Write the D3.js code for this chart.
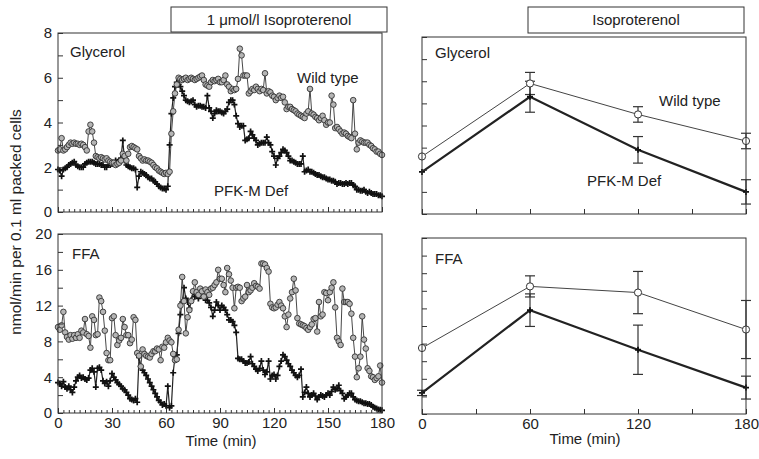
<!DOCTYPE html>
<html>
<head>
<meta charset="utf-8">
<script src="https://d3js.org/d3.v7.min.js"></script>
<style>
  body { margin: 0; background: #fff; }
  svg { font-family: "Liberation Sans", Arial, sans-serif; }
  .tick text { font-size: 15px; fill: #222; }
  .tick line { stroke: #333; }
</style>
</head>
<body>
<svg id="chart" width="759" height="459"></svg>
<script>
// time course, one sample per minute (0..180)
var minutes = d3.range(0, 181);

var glyWT = [2.75,2.8,3.3,2.75,2.8,2.9,3.0,3.1,3.05,3.1,3.05,3.05,3.0,3.05,3.0,2.9,2.75,3.6,3.9,3.6,
  3.1,2.5,2.45,2.4,2.45,2.4,2.35,2.4,2.3,2.25,2.2,2.2,2.1,2.15,2.2,2.3,2.6,2.5,2.3,2.6,
  2.9,2.95,2.9,2.85,2.8,2.5,2.4,2.3,2.35,2.3,2.3,2.25,2.2,2.1,2.0,1.95,1.85,1.8,1.75,1.7,
  1.75,1.7,1.8,3.5,4.5,5.3,5.7,6.0,5.95,5.9,5.95,6.0,5.9,5.95,6.0,5.95,5.9,5.95,6.0,6.05,
  6.1,5.9,5.7,5.65,5.6,5.8,5.9,5.85,5.9,5.95,5.8,5.8,5.9,6.1,5.7,5.6,5.4,5.5,5.45,5.5,
  5.95,7.3,7.0,6.1,6.1,6.1,5.3,5.4,5.5,5.45,5.6,5.5,5.4,5.5,5.45,6.2,5.3,5.4,5.35,5.2,
  5.15,5.0,5.1,5.2,5.1,5.15,4.9,4.6,4.7,4.7,4.6,4.55,4.5,4.4,4.35,4.3,4.25,4.2,4.4,4.5,
  5.5,4.4,4.35,4.25,4.2,4.1,4.2,4.3,4.1,3.9,4.0,4.0,5.2,4.8,3.75,3.8,3.7,3.6,3.5,3.55,
  3.5,3.4,3.35,3.3,5.0,3.5,2.8,3.1,3.2,3.15,3.1,3.1,3.1,3.0,2.95,2.85,2.8,2.7,2.7,2.6,2.55];

var glyPFK = [1.9,1.85,1.6,1.9,1.95,2.0,2.1,2.15,2.2,2.25,2.1,2.05,2.0,2.0,2.0,2.15,2.2,2.25,2.25,2.25,
  2.2,2.15,2.15,2.15,2.1,2.1,2.0,2.0,2.1,2.1,2.15,2.2,2.3,2.25,2.3,2.4,3.2,2.3,2.1,2.05,
  2.0,1.95,1.95,1.9,1.1,1.6,1.8,1.75,1.7,1.65,1.55,1.5,1.5,1.4,1.35,1.25,1.15,1.1,1.05,1.05,
  1.0,1.15,3.0,4.4,5.1,5.6,5.8,5.7,5.6,5.4,5.2,5.0,4.95,4.9,4.95,5.0,4.8,4.7,4.75,4.75,
  4.7,4.7,4.65,5.2,4.65,4.5,4.2,4.4,4.55,4.5,4.5,4.45,4.4,4.5,4.6,4.9,5.0,5.0,4.8,4.3,
  3.95,3.8,3.85,3.85,3.2,3.25,3.3,3.6,3.45,3.3,3.2,3.0,3.05,3.1,3.1,3.1,3.35,3.1,3.0,2.7,
  2.5,2.1,2.4,2.5,2.65,2.8,2.75,2.65,2.5,2.3,2.3,2.25,2.2,2.15,2.15,2.15,2.5,1.8,1.85,1.9,
  1.8,1.8,1.75,1.7,1.65,1.65,1.6,1.55,1.55,1.5,1.45,1.45,1.4,1.4,1.35,1.25,1.3,1.3,1.25,1.25,
  1.3,1.25,1.3,1.3,1.2,1.15,1.0,1.0,0.95,0.95,1.0,0.9,0.85,0.9,0.85,0.8,0.8,0.8,0.75,0.75,0.7];

var ffaWT = [9.6,9.3,9.8,11.3,9.0,8.5,8.2,8.7,8.3,8.7,8.4,8.8,8.4,9.2,9.0,10.5,8.8,8.6,7.3,10.8,
  10.4,8.7,8.8,12.9,12.5,11.3,9.2,6.7,5.9,5.9,10.6,10.8,8.7,7.6,8.1,8.4,10.5,9.6,8.7,8.7,
  7.8,8.2,10.7,10.4,6.7,6.4,5.2,7.1,6.6,6.4,6.3,6.2,6.6,6.9,6.9,7.2,7.1,5.9,7.4,7.3,
  7.9,8.4,8.1,7.9,6.6,5.9,6.0,9.3,12.0,15.2,12.5,8.9,10.7,11.5,12.5,13.6,14.6,13.5,13.2,13.9,
  13.6,13.0,13.8,13.5,13.2,13.9,14.0,14.3,14.6,16.0,15.0,15.0,14.3,13.5,16.2,15.5,14.8,14.0,11.7,14.0,
  14.1,14.0,12.5,12.8,13.0,14.3,13.5,13.7,14.0,14.5,14.2,14.1,13.9,16.7,16.7,16.6,16.2,15.8,12.2,11.8,
  11.7,11.8,12.1,12.4,12.0,11.7,10.8,9.6,11.0,12.8,13.5,15.0,13.7,10.6,10.0,9.9,9.8,9.7,9.5,9.3,
  9.6,9.9,10.5,10.6,9.1,12.4,10.8,11.0,13.5,13.4,12.6,13.5,14.0,14.6,11.8,8.4,8.0,7.6,13.9,12.4,
  12.4,12.4,12.2,11.1,8.4,6.3,4.0,5.0,6.3,10.8,8.2,7.2,5.0,4.7,4.1,4.0,3.7,3.9,4.1,5.3,3.4];

var ffaPFK = [3.4,3.3,3.0,3.5,2.9,2.7,3.0,2.6,2.3,2.9,3.6,4.0,4.2,3.9,4.0,3.8,3.7,3.9,4.8,5.0,
  4.6,2.9,5.0,5.1,4.8,3.6,3.3,3.5,3.0,3.6,4.4,4.0,3.7,3.4,3.2,3.0,2.7,2.6,2.3,2.0,
  1.6,1.5,1.4,1.6,1.2,6.2,5.2,4.8,4.5,4.2,3.8,3.4,3.0,2.6,2.2,1.8,1.4,1.2,0.9,1.0,
  0.8,3.0,0.6,0.8,4.5,6.3,6.5,8.9,11.0,12.4,14.0,12.8,12.4,11.7,12.6,13.5,13.0,13.2,12.8,13.5,
  13.1,13.0,12.6,12.6,12.3,11.8,10.8,11.5,12.4,12.0,11.5,12.0,11.8,11.5,11.0,10.4,10.4,10.2,9.8,9.0,
  6.1,6.0,6.0,5.8,5.6,5.6,5.7,6.3,5.5,5.2,4.9,4.7,5.0,5.8,4.8,4.3,4.6,5.8,3.8,4.2,
  4.3,3.8,4.2,5.2,5.8,6.5,6.3,5.9,5.5,5.2,4.8,4.5,4.2,4.0,4.2,4.9,1.8,2.3,2.9,2.2,
  1.8,2.0,2.2,1.9,1.5,1.8,2.0,1.9,1.8,2.0,2.2,2.0,2.4,2.9,2.6,2.7,3.1,2.5,2.2,1.6,
  1.8,2.0,2.2,2.2,1.8,1.5,1.4,1.3,1.3,1.2,1.1,1.1,1.0,1.0,0.9,0.7,0.6,0.5,0.4,0.35,0.3];

// summary (mean +/- error) at 0, 60, 120, 180 min
var sumTimes = [0, 60, 120, 180];
var sumGlyWT = [2.6, 5.9, 4.5, 3.3];
var sumGlyWTErr = [0, 0.5, 0.35, 0.35];
var sumGlyPFK = [1.9, 5.3, 2.9, 1.0];
var sumGlyPFKErr = [0, 0.7, 0.6, 0.55];
var sumFfaWT = [7.5, 14.5, 13.8, 9.6];
var sumFfaWTErr = [0, 1.2, 2.4, 3.3];
var sumFfaPFK = [2.4, 11.8, 7.3, 3.0];
var sumFfaPFKErr = [0.3, 1.85, 2.8, 1.3];

var svg = d3.select("#chart");
var ink = "#222";
var plusPath = "M-3,0H3M0,-3V3";

function toPts(xs, ys, es) {
  return xs.map(function(t, i) { return {t: t, v: ys[i], e: es ? es[i] : 0}; });
}

function frame(x, y) {
  svg.append("rect")
    .attr("x", x.range()[0]).attr("y", y.range()[1])
    .attr("width", x.range()[1] - x.range()[0])
    .attr("height", y.range()[0] - y.range()[1])
    .attr("fill", "none").attr("stroke", "#333").attr("stroke-width", 1);
}

function yAxis(x, y, step, labelEvery, labels) {
  var g = svg.append("g")
    .attr("transform", "translate(" + x.range()[0] + ",0)")
    .call(d3.axisLeft(y)
      .tickValues(d3.range(0, y.domain()[1] + 0.01, step))
      .tickSize(-5).tickPadding(6)
      .tickFormat(function(d) { return labels && d % labelEvery === 0 ? d : ""; }));
  g.select(".domain").remove();
}

function xAxis(x, y, minorStep, labelStep, labels) {
  var g = svg.append("g")
    .attr("transform", "translate(0," + y.range()[0] + ")")
    .call(d3.axisBottom(x)
      .tickValues(d3.range(0, 181, minorStep))
      .tickSize(-3).tickFormat(""));
  g.select(".domain").remove();
  var g2 = svg.append("g")
    .attr("transform", "translate(0," + y.range()[0] + ")")
    .call(d3.axisBottom(x)
      .tickValues(d3.range(0, 181, 30))
      .tickSize(-5).tickPadding(4)
      .tickFormat(function(d) { return labels && d % labelStep === 0 ? d : ""; }));
  g2.select(".domain").remove();
}

function label(txt, x, y, anchor, size) {
  svg.append("text").attr("x", x).attr("y", y)
    .attr("text-anchor", anchor || "start")
    .attr("font-size", size || 15).attr("fill", ink)
    .text(txt);
}

// --- left panels: minute-by-minute traces
function drawTrace(x, y, wt, pfk) {
  var line = d3.line().x(function(d) { return x(d.t); }).y(function(d) { return y(d.v); });
  var w = toPts(minutes, wt), p = toPts(minutes, pfk);

  svg.append("path").datum(p).attr("d", line)
    .attr("fill", "none").attr("stroke", ink).attr("stroke-width", 1.2);
  svg.append("g").selectAll("path").data(p).enter().append("path")
    .attr("d", plusPath)
    .attr("transform", function(d) { return "translate(" + x(d.t) + "," + y(d.v) + ")"; })
    .attr("stroke", "#111").attr("stroke-width", 1.7);

  svg.append("path").datum(w).attr("d", line)
    .attr("fill", "none").attr("stroke", "#333").attr("stroke-width", 0.9);
  svg.append("g").selectAll("circle").data(w).enter().append("circle")
    .attr("cx", function(d) { return x(d.t); })
    .attr("cy", function(d) { return y(d.v); })
    .attr("r", 2.8)
    .attr("fill", "#b5b5b5").attr("stroke", "#333").attr("stroke-width", 0.9);
}

// --- right panels: means with error bars
function drawSummary(x, y, wt, wtErr, pfk, pfkErr) {
  var line = d3.line().x(function(d) { return x(d.t); }).y(function(d) { return y(d.v); });
  var w = toPts(sumTimes, wt, wtErr), p = toPts(sumTimes, pfk, pfkErr);

  [w, p].forEach(function(s) {
    var g = svg.append("g").selectAll("g").data(s.filter(function(d) { return d.e > 0; }))
      .enter().append("g")
      .attr("stroke", "#333").attr("stroke-width", 1.2);
    g.append("line")
      .attr("x1", function(d) { return x(d.t); }).attr("x2", function(d) { return x(d.t); })
      .attr("y1", function(d) { return y(d.v - d.e); }).attr("y2", function(d) { return y(d.v + d.e); });
    g.append("line")
      .attr("x1", function(d) { return x(d.t) - 5; }).attr("x2", function(d) { return x(d.t) + 5; })
      .attr("y1", function(d) { return y(d.v + d.e); }).attr("y2", function(d) { return y(d.v + d.e); });
    g.append("line")
      .attr("x1", function(d) { return x(d.t) - 5; }).attr("x2", function(d) { return x(d.t) + 5; })
      .attr("y1", function(d) { return y(d.v - d.e); }).attr("y2", function(d) { return y(d.v - d.e); });
  });

  svg.append("path").datum(p).attr("d", line)
    .attr("fill", "none").attr("stroke", ink).attr("stroke-width", 2.2);
  svg.append("g").selectAll("path").data(p).enter().append("path")
    .attr("d", plusPath)
    .attr("transform", function(d) { return "translate(" + x(d.t) + "," + y(d.v) + ")"; })
    .attr("stroke", "#111").attr("stroke-width", 1.8);

  svg.append("path").datum(w).attr("d", line)
    .attr("fill", "none").attr("stroke", "#444").attr("stroke-width", 1);
  svg.append("g").selectAll("circle").data(w).enter().append("circle")
    .attr("cx", function(d) { return x(d.t); })
    .attr("cy", function(d) { return y(d.v); })
    .attr("r", 3.6)
    .attr("fill", "#fff").attr("stroke", "#333").attr("stroke-width", 1);
}

// scales
var xL = d3.scaleLinear().domain([0, 180]).range([58, 382]);
var xR = d3.scaleLinear().domain([0, 180]).range([422, 746]);
var yGlyL = d3.scaleLinear().domain([0, 8]).range([212, 33]);
var yFfaL = d3.scaleLinear().domain([0, 20]).range([413, 234]);
var yGlyR = d3.scaleLinear().domain([0, 8]).range([214, 37]);
var yFfaR = d3.scaleLinear().domain([0, 20]).range([414, 238]);

// top-left glycerol
drawTrace(xL, yGlyL, glyWT, glyPFK);
frame(xL, yGlyL);
yAxis(xL, yGlyL, 1, 2, true);
xAxis(xL, yGlyL, 3, 30, false);
label("Glycerol", 70, 57);
label("Wild type", 297, 83);
label("PFK-M Def", 214, 196);

// bottom-left FFA
drawTrace(xL, yFfaL, ffaWT, ffaPFK);
frame(xL, yFfaL);
yAxis(xL, yFfaL, 2, 4, true);
xAxis(xL, yFfaL, 3, 30, true);
label("FFA", 72, 259);

// top-right glycerol summary
drawSummary(xR, yGlyR, sumGlyWT, sumGlyWTErr, sumGlyPFK, sumGlyPFKErr);
frame(xR, yGlyR);
yAxis(xR, yGlyR, 1, 2, false);
xAxis(xR, yGlyR, 30, 60, false);
label("Glycerol", 435, 58);
label("Wild type", 659, 106);
label("PFK-M Def", 587, 186);

// bottom-right FFA summary
drawSummary(xR, yFfaR, sumFfaWT, sumFfaWTErr, sumFfaPFK, sumFfaPFKErr);
frame(xR, yFfaR);
yAxis(xR, yFfaR, 2, 4, false);
xAxis(xR, yFfaR, 30, 60, true);
label("FFA", 435, 264);

// treatment boxes
svg.append("rect").attr("x", 171).attr("y", 7).attr("width", 216).attr("height", 25)
  .attr("fill", "#fff").attr("stroke", "#333");
label("1 \u03bcmol/l Isoproterenol", 279, 25, "middle");
svg.append("rect").attr("x", 528).attr("y", 7).attr("width", 216).attr("height", 26)
  .attr("fill", "#fff").attr("stroke", "#333");
label("Isoproterenol", 636, 25, "middle");

// axis titles
label("Time (min)", 221, 446, "middle");
label("Time (min)", 585, 444, "middle");
svg.append("text")
  .attr("transform", "translate(21,222) rotate(-90)")
  .attr("text-anchor", "middle").attr("font-size", 15.5).attr("fill", ink)
  .text("nmol/min per 0.1 ml packed cells");
</script>
</body>
</html>
